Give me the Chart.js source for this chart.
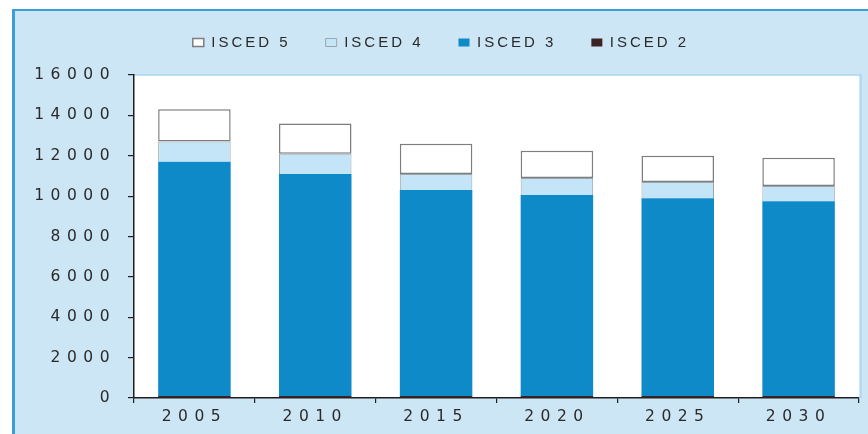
<!DOCTYPE html>
<html>
<head>
<meta charset="utf-8">
<title>ISCED</title>
<script src="https://cdn.jsdelivr.net/npm/chart.js@4.4.1/dist/chart.umd.min.js"></script>
<style>
    html, body { margin: 0; padding: 0; background: #ffffff; }
    #wrap { width: 868px; height: 434px; }
</style>
</head>
<body>
<div id="wrap"><canvas id="iscedChart" width="868" height="434"></canvas></div>
<script>
const years = ['2005', '2010', '2015', '2020', '2025', '2030'];
const isced2 = [100, 100, 100, 100, 100, 100];
const isced3 = [11600, 11000, 10200, 9950, 9800, 9650];
const isced4 = [1000, 1000, 800, 850, 800, 750];
const isced5 = [1600, 1500, 1500, 1350, 1300, 1400];
const yTicks = [0, 2000, 4000, 6000, 8000, 10000, 12000, 14000, 16000];

const fontFamily = '"Liberation Sans", Arial, sans-serif';
const tickFamily = '"DejaVu Sans", "Liberation Sans", sans-serif';
const textColor = '#2a2a2a';
const axisColor = '#1e1e1e';

// panel frame + white plot area, and letter spacing for the wide text
const framePlugin = {
    id: 'frame',
    beforeLayout(chart) {
        chart.ctx.letterSpacing = '3px';
    },
    beforeDraw(chart) {
        const ctx = chart.ctx;
        const area = chart.chartArea;
        ctx.save();
        ctx.fillStyle = '#ffffff';
        ctx.fillRect(0, 0, chart.width, chart.height);
        ctx.fillStyle = '#cde6f5';
        ctx.fillRect(13, 10, chart.width - 13, chart.height - 10);
        ctx.fillStyle = '#3a9fd7';
        ctx.fillRect(12, 9, 3, chart.height - 9);
        ctx.fillRect(12, 9, chart.width - 12, 2);
        ctx.fillStyle = '#ffffff';
        ctx.fillRect(area.left, area.top, area.right - area.left, area.bottom - area.top);
        ctx.strokeStyle = '#a9d6ee';
        ctx.lineWidth = 1.5;
        ctx.beginPath();
        ctx.moveTo(area.left, area.top);
        ctx.lineTo(area.right + 2, area.top);
        ctx.lineTo(area.right + 2, area.bottom);
        ctx.stroke();
        ctx.restore();
        ctx.letterSpacing = '3px';
    },
    afterDatasetsDraw(chart) {
        chart.ctx.letterSpacing = '6.5px';
    },
    afterDraw(chart) {
        chart.ctx.letterSpacing = '0px';
    }
};

const chartData = {
    labels: years,
    datasets: [{
        label: 'ISCED 2',
        data: isced2,
        backgroundColor: '#3b2324',
        borderWidth: 0
    }, {
        label: 'ISCED 3',
        data: isced3,
        backgroundColor: '#0f8ac9',
        borderWidth: 0
    }, {
        label: 'ISCED 4',
        data: isced4,
        backgroundColor: '#c3e5f7',
        borderColor: '#9aa6ad',
        borderWidth: 1,
        borderSkipped: 'start'
    }, {
        label: 'ISCED 5',
        data: isced5,
        backgroundColor: '#ffffff',
        borderColor: '#7d7d7d',
        borderWidth: 1.5,
        borderSkipped: false
    }]
};

const chartConfig = {
    type: 'bar',
    data: chartData,
    options: {
        responsive: false,
        animation: false,
        devicePixelRatio: 1,
        layout: {
            padding: { left: 23, right: 9, top: 0, bottom: 0 }
        },
        datasets: {
            bar: {
                categoryPercentage: 1,
                barPercentage: 0.6
            }
        },
        plugins: {
            legend: {
                position: 'top',
                reverse: true,
                labels: {
                    boxWidth: 11,
                    boxHeight: 8,
                    padding: 35,
                    color: textColor,
                    font: { family: fontFamily, size: 15 }
                }
            },
            // empty spacer under the legend
            title: {
                display: true,
                text: '',
                weight: 500,
                padding: 0,
                font: { size: 12.5, lineHeight: 1.2 }
            },
            tooltip: { enabled: false }
        },
        scales: {
            x: {
                stacked: true,
                afterFit: function (scale) {
                    scale.height = 36;
                },
                grid: {
                    drawOnChartArea: false,
                    tickLength: 5,
                    color: axisColor,
                    lineWidth: 1.2
                },
                border: { color: axisColor, width: 1.5 },
                ticks: {
                    z: 1,
                    padding: 5,
                    color: textColor,
                    font: { family: tickFamily, size: 15.5 }
                }
            },
            y: {
                stacked: true,
                min: 0,
                max: 16000,
                afterFit: function (scale) {
                    scale.width = 111;
                },
                afterBuildTicks: function (scale) {
                    scale.ticks = yTicks.map(v => ({ value: v }));
                },
                grid: {
                    drawOnChartArea: false,
                    tickLength: 6,
                    color: axisColor,
                    lineWidth: 1.2
                },
                border: { color: axisColor, width: 1.5 },
                ticks: {
                    z: 1,
                    padding: 12,
                    color: textColor,
                    font: { family: tickFamily, size: 15.5 },
                    callback: function (value) {
                        return String(value);
                    }
                }
            }
        }
    },
    plugins: [framePlugin]
};

new Chart(document.getElementById('iscedChart'), chartConfig);
</script>
</body>
</html>
